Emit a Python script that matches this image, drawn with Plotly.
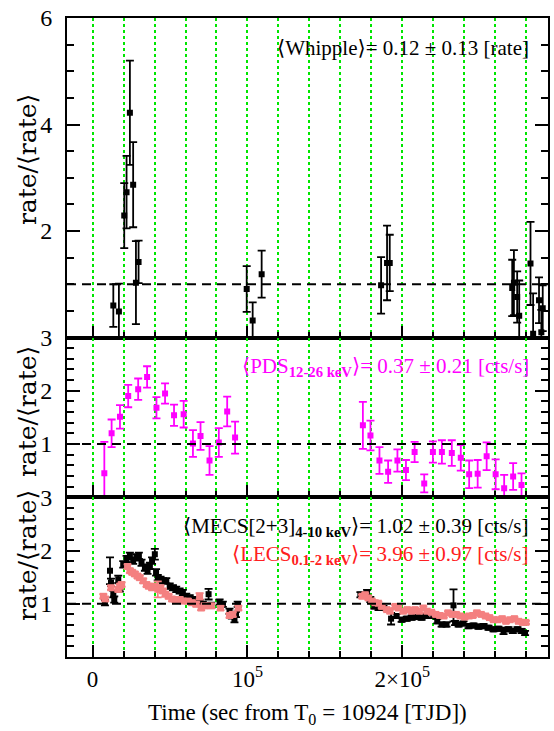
import plotly.graph_objects as go
from plotly.subplots import make_subplots

# ---------------- data ----------------
whipple_t = [13400, 17000, 20450, 21950, 24100, 26200, 28000, 29700,
             99500, 103350, 109150,
             186250, 190100, 191840,
             270900, 272000, 274100, 275400, 282700, 284400, 288200, 289700, 290600]
whipple_v = [0.60, 0.49, 2.29, 2.73, 4.22, 2.87, 1.03, 1.42,
             0.91, 0.32, 1.19,
             0.98, 1.40, 1.40,
             0.93, 1.03, 0.76, 0.41, 1.39, 0.07, 0.70, 0.10, 0.55]
whipple_err = [0.40, 0.52, 0.61, 0.68, 0.98, 0.80, 0.78, 0.40,
               0.43, 0.34, 0.44,
               0.53, 0.70, 0.53,
               0.53, 0.61, 0.48, 0.66, 0.78, 0.76, 0.43, 0.42, 0.43]

pds_t = [7600, 12300, 17700, 23000, 29450, 35200, 41250, 46800, 52600, 58800,
         64800, 69700, 75500, 81500, 86900, 92000,
         174500, 179400, 185200, 190800, 196800, 202300, 207900, 214100, 219700,
         225500, 231900, 237700, 243100, 248600, 254400, 260200, 265700, 271500, 276900]
pds_v = [0.45, 1.20, 1.51, 1.90, 2.03, 2.26, 1.68, 1.95, 1.54, 1.56,
         1.01, 1.15, 0.69, 1.03, 1.61, 1.12,
         1.35, 1.16, 0.69, 0.48, 0.69, 0.51, 0.85, 0.26, 0.85,
         0.85, 0.83, 0.74, 0.43, 0.44, 0.77, 0.43, 0.17, 0.39, 0.23]
pds_err = [0.59, 0.26, 0.22, 0.21, 0.20, 0.20, 0.20, 0.19, 0.20, 0.25,
           0.25, 0.26, 0.27, 0.27, 0.28, 0.30,
           0.44, 0.28, 0.25, 0.21, 0.21, 0.19, 0.19, 0.17, 0.20,
           0.22, 0.24, 0.24, 0.26, 0.26, 0.26, 0.28, 0.25, 0.25, 0.22]

mecs_t = [8000, 11250, 11900, 13400, 14000, 16600, 17600, 19800, 21950, 24100,
          26200, 28400, 29900, 31600, 33800, 35500, 37000, 38400, 40200, 41000,
          42100, 43900, 45500, 47600, 49800, 51900, 54000, 56200, 58300, 60500,
          62700, 64800, 66900, 69100, 71200, 74900, 76600, 82000, 84100, 88400,
          89900, 91600, 92600, 93700,
          172900, 177200, 179300, 181900, 184600, 187800, 192700, 196300, 199500, 202800,
          206000, 209200, 212400, 215600, 219900, 222500, 225300, 228500, 233000, 234000,
          236300, 239500, 242700, 245900, 249100, 252400, 255600, 258800, 262000, 265300,
          268500, 271300, 274300, 277000, 279200]
mecs_v = [1.02, 1.62, 1.40, 1.18, 1.08, 1.46, 1.30, 1.74, 1.84, 1.90,
          1.81, 1.87, 1.90, 1.77, 1.68, 1.62, 1.71, 1.81, 1.93, 1.59,
          1.49, 1.46, 1.43, 1.43, 1.33, 1.30, 1.27, 1.24, 1.21, 1.14,
          1.11, 1.08, 1.05, 1.02, 0.99, 1.18, 0.97, 1.03, 0.99, 0.86,
          0.77, 0.70, 0.80, 0.99,
          1.17, 1.21, 1.08, 0.95, 0.92, 0.92, 0.72, 0.77, 0.70, 0.72,
          0.74, 0.75, 0.74, 0.77, 0.77, 0.67, 0.61, 0.61, 0.97, 0.64,
          0.61, 0.63, 0.58, 0.59, 0.57, 0.58, 0.55, 0.52, 0.53, 0.49,
          0.52, 0.49, 0.52, 0.49, 0.45]
mecs_err = [0.05, 0.25, 0.07, 0.06, 0.06, 0.07, 0.07, 0.06, 0.06, 0.06,
            0.06, 0.06, 0.06, 0.06, 0.06, 0.06, 0.06, 0.06, 0.10, 0.06,
            0.05, 0.05, 0.05, 0.05, 0.05, 0.05, 0.05, 0.05, 0.05, 0.05,
            0.05, 0.05, 0.05, 0.05, 0.05, 0.10, 0.05, 0.05, 0.05, 0.05,
            0.05, 0.05, 0.05, 0.05,
            0.05, 0.05, 0.05, 0.04, 0.04, 0.04, 0.11, 0.04, 0.04, 0.04,
            0.04, 0.04, 0.04, 0.04, 0.04, 0.04, 0.04, 0.04, 0.30, 0.04,
            0.04, 0.04, 0.04, 0.04, 0.04, 0.04, 0.04, 0.04, 0.04, 0.06,
            0.04, 0.04, 0.04, 0.04, 0.04]

lecs_t = [6950, 8200, 11900, 16600, 17600, 18750, 22600, 24100, 25600, 27300,
          29000, 30500, 32700, 34800, 36300, 38400, 40200, 42100, 43900, 45500,
          47000, 49100, 51300, 53400, 56200, 58300, 61500, 64100, 66900, 69100,
          70100, 72300, 76600, 82600, 88400, 90500, 94100,
          174000, 176000, 178000, 180300, 182400, 184500, 186700, 189900, 192000, 195300,
          197400, 200600, 203200, 206000, 208100, 210900, 213500, 216000, 218800, 221600,
          224100, 226700, 229500, 232300, 234800, 237400, 240200, 243000, 245500, 248100,
          250900, 253700, 256200, 258800, 261600, 264400, 266900, 269500, 272300, 275000,
          277600, 279700]
lecs_v = [1.14, 1.09, 1.30, 1.27, 1.33, 1.36, 1.70, 1.62, 1.59, 1.56,
          1.52, 1.49, 1.43, 1.36, 1.33, 1.30, 1.33, 1.27, 1.30, 1.24,
          1.18, 1.14, 1.09, 1.08, 1.08, 1.05, 1.05, 1.02, 0.99, 1.14,
          0.92, 0.96, 0.96, 0.92, 0.78, 0.80, 0.92,
          1.14, 1.17, 1.11, 1.05, 1.02, 1.01, 0.95, 0.89, 0.86, 0.95,
          0.92, 0.86, 0.89, 0.86, 0.89, 0.86, 0.92, 0.86, 0.84, 0.80,
          0.78, 0.77, 0.83, 0.80, 0.80, 0.77, 0.75, 0.77, 0.78, 0.83,
          0.80, 0.77, 0.74, 0.70, 0.70, 0.72, 0.67, 0.70, 0.72, 0.67,
          0.65, 0.65]
lecs_err = [0.04, 0.04, 0.04, 0.04, 0.04, 0.04, 0.04, 0.04, 0.04, 0.04,
            0.04, 0.04, 0.04, 0.04, 0.04, 0.04, 0.04, 0.15, 0.04, 0.04,
            0.04, 0.04, 0.04, 0.04, 0.04, 0.04, 0.04, 0.04, 0.04, 0.06,
            0.04, 0.04, 0.04, 0.04, 0.04, 0.04, 0.04,
            0.03, 0.03, 0.03, 0.03, 0.03, 0.03, 0.03, 0.03, 0.03, 0.03,
            0.03, 0.03, 0.03, 0.03, 0.03, 0.03, 0.03, 0.03, 0.03, 0.03,
            0.03, 0.03, 0.03, 0.03, 0.03, 0.03, 0.03, 0.03, 0.03, 0.03,
            0.03, 0.03, 0.03, 0.03, 0.03, 0.03, 0.03, 0.03, 0.03, 0.03,
            0.03, 0.03]

x_tickvals = [0, 100000, 200000]
x_ticktext = ["0", "10<sup>5</sup>", "2×10<sup>5</sup>"]
y_top_ticks = [2, 4, 6]
y_low_ticks = [1, 2, 3]

# ---------------- figure ----------------
FONT = "Liberation Serif, DejaVu Serif, serif"
TFONT = "DejaVu Serif, Liberation Serif, serif"
GREEN = "#00e600"

fig = make_subplots(rows=3, cols=1, shared_xaxes=True, vertical_spacing=0,
                    row_heights=[0.5, 0.25, 0.25])

def add_series(t, v, e, color, size, row, width=1.8, capw=4):
    fig.add_trace(go.Scatter(
        x=t, y=v, mode="markers",
        marker=dict(symbol="square", size=size, color=color, line=dict(width=0)),
        error_y=dict(type="data", array=e, visible=True, color=color,
                     thickness=width, width=capw),
        showlegend=False, hoverinfo="skip"), row=row, col=1)

add_series(whipple_t, whipple_v, whipple_err, "black", 6, 1)
add_series(pds_t, pds_v, pds_err, "#ff00ff", 6, 2)
add_series(mecs_t, mecs_v, mecs_err, "black", 6, 3)
add_series(lecs_t, lecs_v, lecs_err, "#f48080", 7, 3)

for r in (1, 2, 3):
    fig.update_xaxes(
        row=r, col=1, range=[-16500, 294000],
        showline=True, linecolor="black", linewidth=2, mirror=True,
        ticks="inside", ticklen=12, tickwidth=1.5, tickcolor="black",
        tickvals=x_tickvals, ticktext=x_ticktext,
        showticklabels=(r == 3),
        tickfont=dict(family=FONT, size=23, color="black"),
        showgrid=True, gridcolor=GREEN, gridwidth=2, griddash="dot",
        minor=dict(dtick=20000, tick0=0, ticks="inside", ticklen=6,
                   tickcolor="black", tickwidth=1.5,
                   showgrid=True, gridcolor=GREEN, gridwidth=2, griddash="dot"),
        zeroline=False)

fig.update_yaxes(row=1, col=1, range=[0, 6], tickvals=y_top_ticks,
                 minor=dict(dtick=0.5, ticks="inside", ticklen=7, tickcolor="black", tickwidth=1.5))
fig.update_yaxes(row=2, col=1, range=[0, 3], tickvals=y_low_ticks,
                 minor=dict(dtick=0.2, ticks="inside", ticklen=7, tickcolor="black", tickwidth=1.5))
fig.update_yaxes(row=3, col=1, range=[0, 3], tickvals=y_low_ticks,
                 minor=dict(dtick=0.2, ticks="inside", ticklen=7, tickcolor="black", tickwidth=1.5))
fig.update_yaxes(showline=True, linecolor="black", linewidth=2, mirror="ticks",
                 ticks="inside", ticklen=13, tickwidth=1.5, tickcolor="black",
                 showgrid=False, zeroline=False, ticklabelstandoff=8,
                 tickfont=dict(family=FONT, size=24, color="black"))

# dashed reference lines at rate/<rate> = 1
for yref in ("y", "y2", "y3"):
    fig.add_shape(type="line", xref="paper", x0=0, x1=1, yref=yref, y0=1, y1=1,
                  line=dict(color="black", width=2, dash="9px,6px"), layer="above")

ann = []
def txt(x, y, s, color, size=21, anchor="right", angle=0, family=FONT):
    ann.append(dict(xref="paper", yref="paper", x=x, y=y, text=s, showarrow=False,
                    xanchor=anchor, yanchor="middle", textangle=angle,
                    font=dict(family=family, size=size, color=color)))

txt(0.965, 0.953, "⟨Whipple⟩= 0.12 ± 0.13 [rate]", "black")
txt(0.965, 0.454, "⟨PDS<sub><b>12-26 keV</b></sub>⟩= 0.37 ± 0.21 [cts/s]", "#ff00ff")
txt(0.965, 0.203, "⟨MECS[2+3]<sub><b>4-10 keV</b></sub>⟩= 1.02 ± 0.39 [cts/s]", "black")
txt(0.965, 0.160, "⟨LECS<sub><b>0.1-2 keV</b></sub>⟩= 3.96 ± 0.97 [cts/s]", "#ff2020")

# y titles
for yc in (160, 412, 556):
    txt(-0.083, (657 - yc) / 639, "rate/⟨rate⟩", "black", size=25,
        anchor="center", angle=-90, family=TFONT)

# x title
txt(0.5, (657 - 714) / 639, "Time (sec from T<sub>0</sub> = 10924 [TJD])", "black",
    size=23, anchor="center")

fig.update_layout(
    width=554, height=731,
    margin=dict(l=67, r=4, t=18, b=74),
    paper_bgcolor="white", plot_bgcolor="white",
    annotations=ann, showlegend=False,
    font=dict(family=FONT, color="black"))

fig.write_html("out.html", config={"displayModeBar": False},
               post_script="document.body.style.margin='0px';")
